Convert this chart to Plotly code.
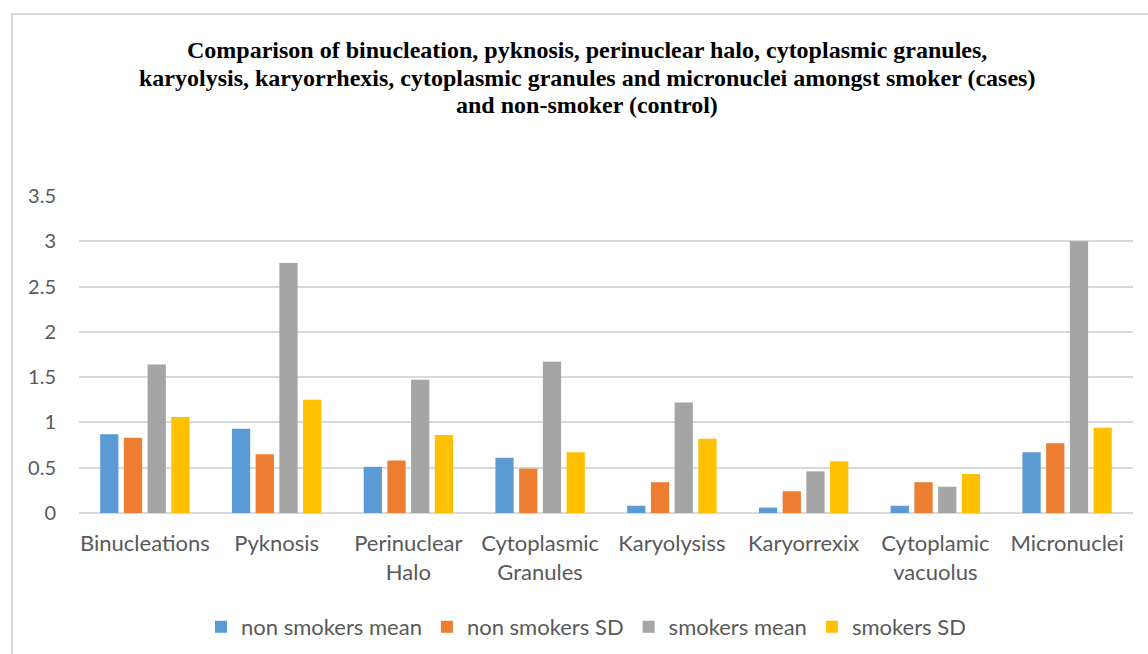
import plotly.graph_objects as go

categories = ["Binucleations", "Pyknosis", "Perinuclear<br>Halo", "Cytoplasmic<br>Granules",
              "Karyolysiss", "Karyorrexix", "Cytoplamic<br>vacuolus", "Micronuclei"]
non_smokers_mean = [0.87, 0.93, 0.51, 0.61, 0.08, 0.06, 0.08, 0.67]
non_smokers_sd = [0.83, 0.65, 0.58, 0.49, 0.34, 0.24, 0.34, 0.77]
smokers_mean = [1.64, 2.76, 1.47, 1.67, 1.22, 0.46, 0.29, 3.00]
smokers_sd = [1.06, 1.25, 0.86, 0.67, 0.82, 0.57, 0.43, 0.94]

title_lines = [
    "Comparison of binucleation, pyknosis, perinuclear halo, cytoplasmic granules,",
    "karyolysis, karyorrhexis, cytoplasmic granules and micronuclei amongst smoker (cases)",
    "and non-smoker (control)",
]

series = [
    ("non smokers mean", non_smokers_mean, "#5b9bd5"),
    ("non smokers SD", non_smokers_sd, "#ed7d31"),
    ("smokers mean", smokers_mean, "#a5a5a5"),
    ("smokers SD", smokers_sd, "#ffc000"),
]

fig = go.Figure()
for name, vals, color in series:
    fig.add_trace(go.Bar(x=categories, y=vals, name=name, marker_color=color,
                         marker_line_width=0))

W, H = 1148, 654
L, R, T, B = 79, 1133, 196, 513

def px_x(x):
    return (x - L) / (R - L)

def px_y(y):
    return (B - y) / (B - T)

annotations = []
for i, (line, yc) in enumerate(zip(title_lines, [50, 77.5, 105])):
    annotations.append(dict(text="<b>" + line + "</b>", xref="paper", yref="paper",
                            x=px_x(586.5), y=px_y(yc), xanchor="center", yanchor="middle",
                            showarrow=False,
                            font=dict(family="Liberation Serif", size=24, color="black")))

fig.update_layout(
    width=W, height=H,
    margin=dict(l=L, r=W - R, t=T, b=H - B, autoexpand=False),
    paper_bgcolor="white", plot_bgcolor="white",
    barmode="group", bargap=0.28, bargroupgap=0.23,
    font=dict(family="Lato", size=22, color="#595959"),
    showlegend=True,
    legend=dict(orientation="h", x=0.481, xanchor="center", y=px_y(627), yanchor="middle",
                font=dict(family="Lato", size=22, color="#595959"), traceorder="normal",
                itemwidth=30),
    xaxis=dict(showgrid=False, showline=False, ticks="", tickfont=dict(size=22, color="#595959"),
               tickangle=0, ticklabelstandoff=15),
    yaxis=dict(range=[0, 3.5], dtick=0.5, tickformat="~g", showgrid=True, gridcolor="#d9d9d9",
               gridwidth=2, zeroline=True, zerolinecolor="#d9d9d9", zerolinewidth=2,
               showline=False, ticks="", tickfont=dict(size=20, color="#595959"), ticklabelstandoff=22),
    annotations=annotations,
    shapes=[dict(type="rect", xref="paper", yref="paper",
                 x0=px_x(12), x1=px_x(1160), y0=px_y(670), y1=px_y(14),
                 line=dict(color="#d9d9d9", width=2), fillcolor="rgba(0,0,0,0)", layer="below")],
)

fig.write_html("out.html")
